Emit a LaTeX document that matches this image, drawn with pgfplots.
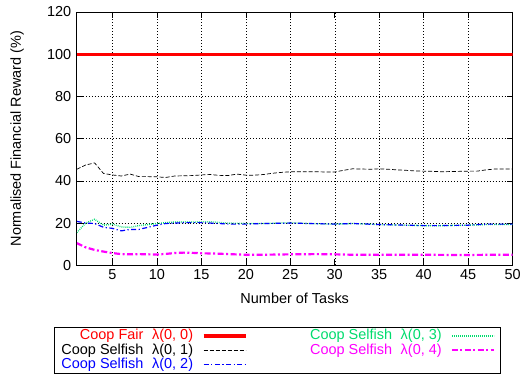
\documentclass[border=0pt]{standalone}
\usepackage{pgfplots}
\pgfplotsset{compat=1.18}
\usepackage{fontspec}
\setmainfont{Liberation Sans}
\definecolor{cgreen}{RGB}{0,220,110}
\definecolor{cblue}{RGB}{0,0,255}
\definecolor{cmag}{RGB}{255,0,255}
\begin{document}
\begin{tikzpicture}[font=\fontsize{14.5bp}{15bp}\selectfont]
\begin{axis}[
  scale only axis, width=437bp, height=254bp,
  xmin=1, xmax=50, ymin=0, ymax=120,
  xtick={5,10,...,50}, ytick={0,20,...,120},
  /pgf/number format/assume math mode=true,
  tick align=inside, major tick length=6bp,
  tick style={black, line width=0.6pt},
  grid=major, major grid style={black, line width=0.5pt, dash pattern=on 1bp off 2bp},
  axis line style={black, line width=0.8pt},
  xticklabel style={yshift=-1bp},
  yticklabel style={xshift=-2bp},
  xlabel={Number of Tasks}, ylabel={Normalised Financial Reward (\%)},
  xlabel style={at={(axis description cs:0.5,-0.13)}, anchor=center},
  ylabel style={at={(axis description cs:-0.137,0.5)}, anchor=center},
  legend plot pos=right, legend cell align=right, legend columns=2,
  legend style={at={(axis description cs:-0.0526,-0.242)}, anchor=north west,
    draw=black, line width=1.2pt, inner xsep=6bp, inner ysep=1.5bp,
    /tikz/every odd column/.append style={column sep=8bp},
    /tikz/every even column/.append style={column sep=62bp},
    nodes={inner sep=1bp, text height=10bp, text depth=2.5bp}},
  legend image code/.code={\draw[#1] (0bp,0bp) -- (42bp,0bp);},
]
\addplot[red, line width=3.3pt, forget plot] coordinates {(1,100) (50,100)};
\addplot[black, line width=0.7pt, dash pattern=on 4bp off 2bp, forget plot] coordinates {
(1,45.5) (2,47.5) (3,48.5) (4,43.5) (5,42.8) (6,42.3) (7,43.2) (8,42.0) (9,42.0) (10,41.9)
(11,41.6) (12,42.3) (13,42.4) (14,42.5) (15,42.8) (16,43.0) (17,42.6) (18,42.5) (19,43.2) (20,42.7)
(21,42.7) (22,43.0) (23,43.6) (24,44.0) (25,44.3) (26,44.3) (27,44.3) (28,44.3) (29,44.2) (30,44.2)
(31,45.0) (32,45.7) (33,45.6) (34,45.5) (35,45.7) (36,45.5) (37,45.2) (38,45.0) (39,44.7) (40,44.6)
(41,44.5) (42,44.3) (43,44.4) (44,44.5) (45,44.6) (46,44.6) (47,45.2) (48,45.6) (49,45.6) (50,45.6)};
\addplot[cgreen, line width=1.4pt, dash pattern=on 0.8bp off 1.2bp, forget plot] coordinates {
(1,15.5) (2,20.0) (3,21.8) (4,19.0) (5,19.5) (6,18.2) (7,18.0) (8,18.8) (9,19.3) (10,19.8)
(11,20.2) (12,20.5) (13,20.5) (14,20.5) (15,20.6) (16,20.6) (17,20.3) (18,20.0) (20,19.8) (22,19.8)
(25,20.2) (27,19.8) (30,19.5) (32,19.8) (35,19.3) (38,19.0) (40,18.8) (42,18.8) (45,19.0) (47,19.3) (50,19.3)};
\addplot[cblue, line width=1.2pt, dash pattern=on 5bp off 2.5bp on 1.2bp off 2.5bp, forget plot] coordinates {
(1,20.8) (2,20.0) (3,19.8) (4,18.0) (5,17.5) (6,16.3) (7,17.0) (8,17.0) (9,18.0) (10,19.0)
(11,19.8) (12,20.0) (13,20.2) (14,20.2) (15,20.2) (16,20.0) (17,19.8) (18,19.5) (19,19.5) (20,19.5)
(22,19.8) (25,20.0) (27,19.8) (30,19.5) (32,19.8) (35,19.3) (38,19.0) (40,18.8) (42,18.8) (45,19.0) (47,19.5) (50,19.5)};
\addplot[cmag, line width=2.2pt, dash pattern=on 6bp off 2.5bp on 2bp off 2.5bp, forget plot] coordinates {
(1,10.5) (2,8.5) (3,7.3) (4,6.5) (5,5.8) (6,5.3) (7,5.2) (8,5.3) (9,5.2) (10,5.1)
(11,5.4) (12,5.8) (13,6.0) (14,5.9) (15,5.7) (16,5.6) (17,5.5) (18,5.3) (20,5.0) (22,5.0)
(25,5.2) (28,5.3) (30,5.2) (32,5.0) (35,5.0) (38,5.0) (40,5.0) (43,4.9) (45,4.9) (48,5.0) (50,5.0)};
\addlegendimage{red, line width=3.3pt}
\addlegendentry{\textcolor{red}{Coop Fair\hspace{0.6em}λ(0, 0)}}
\addlegendimage{cgreen, line width=1.4pt, dash pattern=on 0.8bp off 1.2bp}
\addlegendentry{\textcolor{cgreen}{Coop Selfish\hspace{0.6em}λ(0, 3)}}
\addlegendimage{black, line width=0.7pt, dash pattern=on 4bp off 2bp}
\addlegendentry{\textcolor{black}{Coop Selfish\hspace{0.6em}λ(0, 1)}}
\addlegendimage{cmag, line width=2.2pt, dash pattern=on 6bp off 2.5bp on 2bp off 2.5bp}
\addlegendentry{\textcolor{cmag}{Coop Selfish\hspace{0.6em}λ(0, 4)}}
\addlegendimage{cblue, line width=1.2pt, dash pattern=on 5bp off 2.5bp on 1.2bp off 2.5bp}
\addlegendentry{\textcolor{cblue}{Coop Selfish\hspace{0.6em}λ(0, 2)}}
\end{axis}
\path ([xshift=-77bp,yshift=-108bp]current axis.south west) rectangle ([xshift=10bp,yshift=12bp]current axis.north east);
\end{tikzpicture}
\end{document}
